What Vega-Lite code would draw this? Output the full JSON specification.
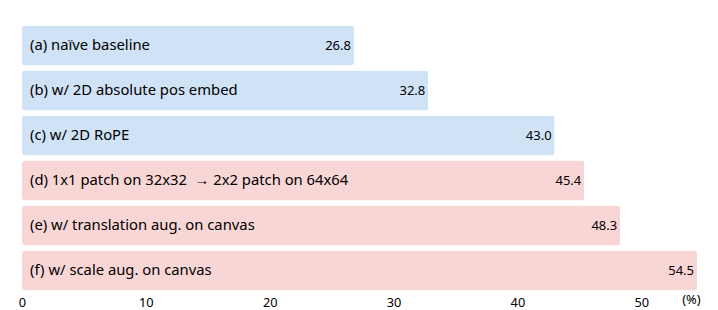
{
  "$schema": "https://vega.github.io/schema/vega-lite/v6.json",
  "width": 675,
  "height": 270,
  "autosize": {"type": "none"},
  "padding": {"left": 22, "top": 23, "right": 21, "bottom": 17},
  "config": {
    "view": {"stroke": null},
    "font": "Noto Sans"
  },
  "data": {
    "values": [
      {"label": "(a) naïve baseline", "value": 26.8, "group": "blue"},
      {"label": "(b) w/ 2D absolute pos embed", "value": 32.8, "group": "blue"},
      {"label": "(c) w/ 2D RoPE", "value": 43.0, "group": "blue"},
      {"label": "(d) 1x1 patch on 32x32\u00a0 → 2x2 patch on 64x64", "value": 45.4, "group": "red"},
      {"label": "(e) w/ translation aug. on canvas", "value": 48.3, "group": "red"},
      {"label": "(f) w/ scale aug. on canvas", "value": 54.5, "group": "red"}
    ]
  },
  "encoding": {
    "y": {
      "field": "label", "type": "nominal", "sort": null,
      "scale": {"paddingInner": 0.11, "paddingOuter": 0.055},
      "axis": null
    }
  },
  "layer": [
    {
      "mark": {"type": "bar", "cornerRadius": 3},
      "encoding": {
        "x": {
          "field": "value", "type": "quantitative",
          "scale": {"domain": [0, 54.5], "nice": false},
          "axis": {
            "values": [0, 10, 20, 30, 40, 50],
            "domain": false, "ticks": false, "grid": false, "labelFlush": false,
            "labelFontSize": 12.8, "labelColor": "#000", "labelPadding": 3,
            "labelFont": "Noto Sans",
            "title": "(%)", "titleFontSize": 12.8, "titleFontWeight": "normal",
            "titleColor": "#000", "titleFont": "Noto Sans",
            "titleAnchor": "end", "titleX": 678, "titleY": 6.5, "titleBaseline": "middle"
          }
        },
        "color": {
          "field": "group", "type": "nominal",
          "scale": {"domain": ["blue", "red"], "range": ["#cfe2f6", "#f9d6d6"]},
          "legend": null
        }
      }
    },
    {
      "mark": {"type": "text", "align": "left", "dx": 8, "fontSize": 14.8, "color": "#000", "font": "Noto Sans"},
      "encoding": {
        "x": {"datum": 0, "type": "quantitative"},
        "text": {"field": "label"}
      }
    },
    {
      "mark": {"type": "text", "align": "right", "dx": -3, "fontSize": 13, "color": "#000", "font": "Noto Sans"},
      "encoding": {
        "x": {"field": "value", "type": "quantitative"},
        "text": {"field": "value", "format": ".1f"}
      }
    }
  ]
}
